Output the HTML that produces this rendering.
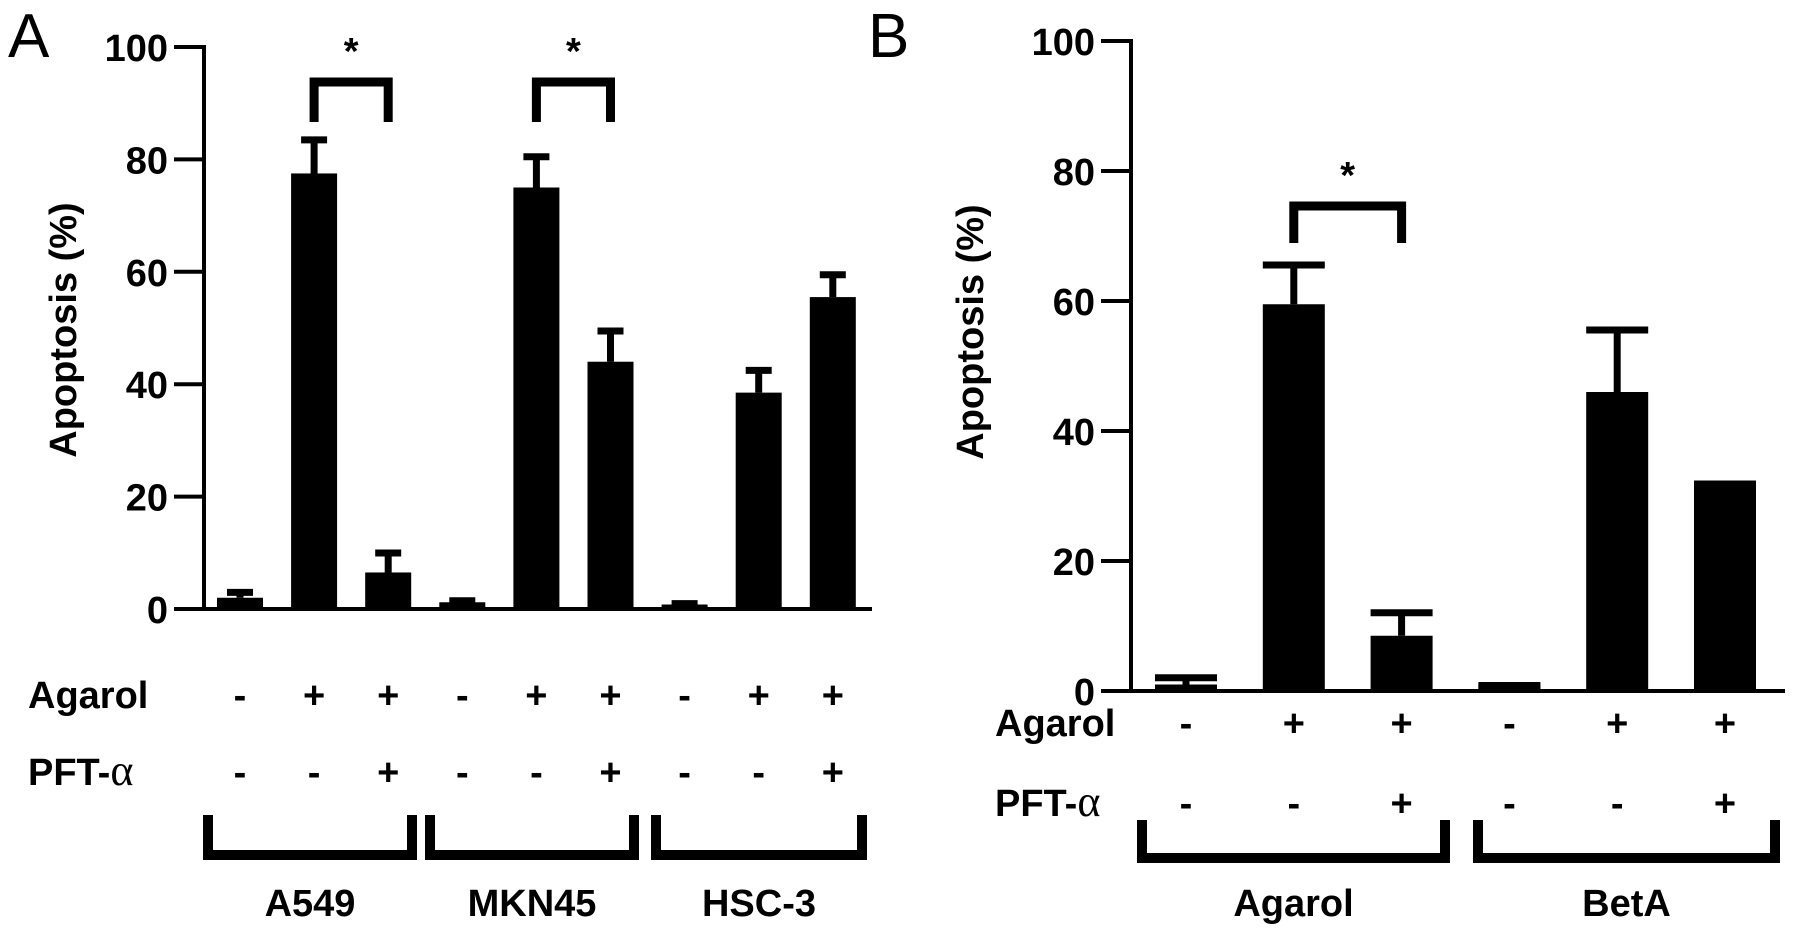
<!DOCTYPE html>
<html><head><meta charset="utf-8">
<style>
html,body{margin:0;padding:0;background:#fff;}
svg{display:block;font-family:"Liberation Sans",Arial,sans-serif;}
.t{font-weight:bold;font-size:38px;}
</style></head>
<body>
<svg id="fig" width="1795" height="928" viewBox="0 0 1795 928" xmlns="http://www.w3.org/2000/svg">
<text x="8" y="57" font-size="62">A</text>
<text x="868" y="57" font-size="62">B</text>
<g id="pa"></g>
<g id="pb"></g>
</svg>
<script>
const yTicks = [0,20,40,60,80,100];
const aCats = ["A549-ctrl","A549-agarol","A549-agarol-pft","MKN45-ctrl","MKN45-agarol","MKN45-agarol-pft","HSC3-ctrl","HSC3-agarol","HSC3-agarol-pft"];
const aValues = [2,77.5,6.5,1.2,75,44,0.8,38.5,55.5];
const aErrors = [1.5,6.5,4,0.8,6,6,0.7,4.5,4.5];
const aAgarol = ["-","+","+","-","+","+","-","+","+"];
const aPft = ["-","-","+","-","-","+","-","-","+"];
const aGroups = ["A549","MKN45","HSC-3"];
const bCats = ["Agarol-ctrl","Agarol-agarol","Agarol-agarol-pft","BetA-ctrl","BetA-agarol","BetA-agarol-pft"];
const bValues = [1,59.5,8.5,1,46,32];
const bErrors = [1.5,6.5,4,0.3,10,0.3];
const bAgarol = ["-","+","+","-","+","+"];
const bPft = ["-","-","+","-","-","+"];
const bGroups = ["Agarol","BetA"];
const NS="http://www.w3.org/2000/svg";
function mk(p,tag,at,txt){const e=document.createElementNS(NS,tag);for(const k in at)e.setAttribute(k,at[k]);if(txt!==undefined)e.textContent=txt;p.appendChild(e);return e;}

function panel(g,cfg){
  const y=v=>cfg.y0-(v/100)*(cfg.y0-cfg.y100);
  const x=i=>cfg.x0+cfg.firstC+i*cfg.step;
  let e;
  e=mk(g,'line',{x1:cfg.x0,y1:cfg.y100-2,x2:cfg.x0,y2:cfg.y0,stroke:'#000','stroke-width':4});
  
  
  e=mk(g,'line',{x1:cfg.x0-2,y1:cfg.y0,x2:cfg.xEnd,y2:cfg.y0,stroke:'#000','stroke-width':4});
  
  
  yTicks.forEach(t=>{
    e=mk(g,'line',{x1:cfg.x0-30,y1:y(t),x2:cfg.x0,y2:y(t),stroke:'#000','stroke-width':4});
    
    
    e=mk(g,'text',{x:cfg.x0-36,y:y(t)+14,'text-anchor':'end',class:'t'},String(t));
    
    
  });
  e=mk(g,'text',{x:0,y:0,class:'t',transform:`translate(${cfg.titleX},${cfg.titleY}) rotate(-90)`,'text-anchor':'middle'},'Apoptosis (%)');
  
  
  cfg.vals.forEach((v,i)=>{
    const cx=x(i), top=y(v+cfg.errs[i]);
    e=mk(g,'line',{x1:cx,y1:y(v),x2:cx,y2:top,stroke:'#000','stroke-width':7});
    
    
    e=mk(g,'line',{x1:cx-cfg.cap/2,y1:top+3,x2:cx+cfg.cap/2,y2:top+3,stroke:'#000','stroke-width':7});
    
    
    e=mk(g,'rect',{x:cx-cfg.bw/2,y:y(v),width:cfg.bw,height:cfg.y0-y(v),fill:'#000'});
    
    
    e=mk(g,'text',{x:cx,y:cfg.rowA+13,'text-anchor':'middle',class:'t'},cfg.ag[i]);
    
    
    e=mk(g,'text',{x:cx,y:cfg.rowP+13,'text-anchor':'middle',class:'t'},cfg.pf[i]);
    
    
  });
  e=mk(g,'text',{x:cfg.rowLabelX,y:cfg.rowA+13,class:'t'},'Agarol');
  
  
  e=mk(g,'text',{x:cfg.rowLabelX,y:cfg.rowP+13,class:'t'});
  
  
  e.innerHTML='PFT-<tspan font-family="Liberation Serif,serif" font-weight="normal" font-size="44">α</tspan>';
  cfg.sig.forEach(s=>{
    const xa=x(s[0]),xb=x(s[1]);
    e=mk(g,'path',{d:`M${xa} ${cfg.sigLeg} V${cfg.sigTop} H${xb} V${cfg.sigLeg}`,fill:'none',stroke:'#000','stroke-width':9});
    
    
    e=mk(g,'text',{x:(xa+xb)/2,y:cfg.sigTop-18,'text-anchor':'middle',class:'t','font-size':'46'},'*');
    
    
  });
  cfg.groups.forEach((n,gi)=>{
    const [a,b]=cfg.gx[gi];
    e=mk(g,'path',{d:`M${a} ${cfg.gTop} V${cfg.gBot} H${b} V${cfg.gTop}`,fill:'none',stroke:'#000','stroke-width':10});
    
    
    e=mk(g,'text',{x:(a+b)/2,y:cfg.nameY,'text-anchor':'middle',class:'t'},n);
    
    
  });
}
panel(document.getElementById('pa'),{x0:204,xEnd:872,y0:609,y100:47,firstC:36,step:74.1,bw:46,cap:26,
  vals:aValues,errs:aErrors,cats:aCats,ag:aAgarol,pf:aPft,titleX:76,titleY:330,rowA:695,rowP:772,rowLabelX:28,
  sig:[[1,2],[4,5]],sigTop:82,sigLeg:122,groups:aGroups,gx:[[208,412],[430,634],[656,862]],gTop:815,gBot:855,nameY:916});
panel(document.getElementById('pb'),{x0:1131,xEnd:1785,y0:691,y100:41,firstC:55,step:107.8,bw:62,cap:62,
  vals:bValues,errs:bErrors,cats:bCats,ag:bAgarol,pf:bPft,titleX:983,titleY:332,rowA:723,rowP:803,rowLabelX:995,
  sig:[[1,2]],sigTop:206,sigLeg:243,groups:bGroups,gx:[[1142,1445],[1478,1775]],gTop:820,gBot:858,nameY:916});
</script>
</body></html>
